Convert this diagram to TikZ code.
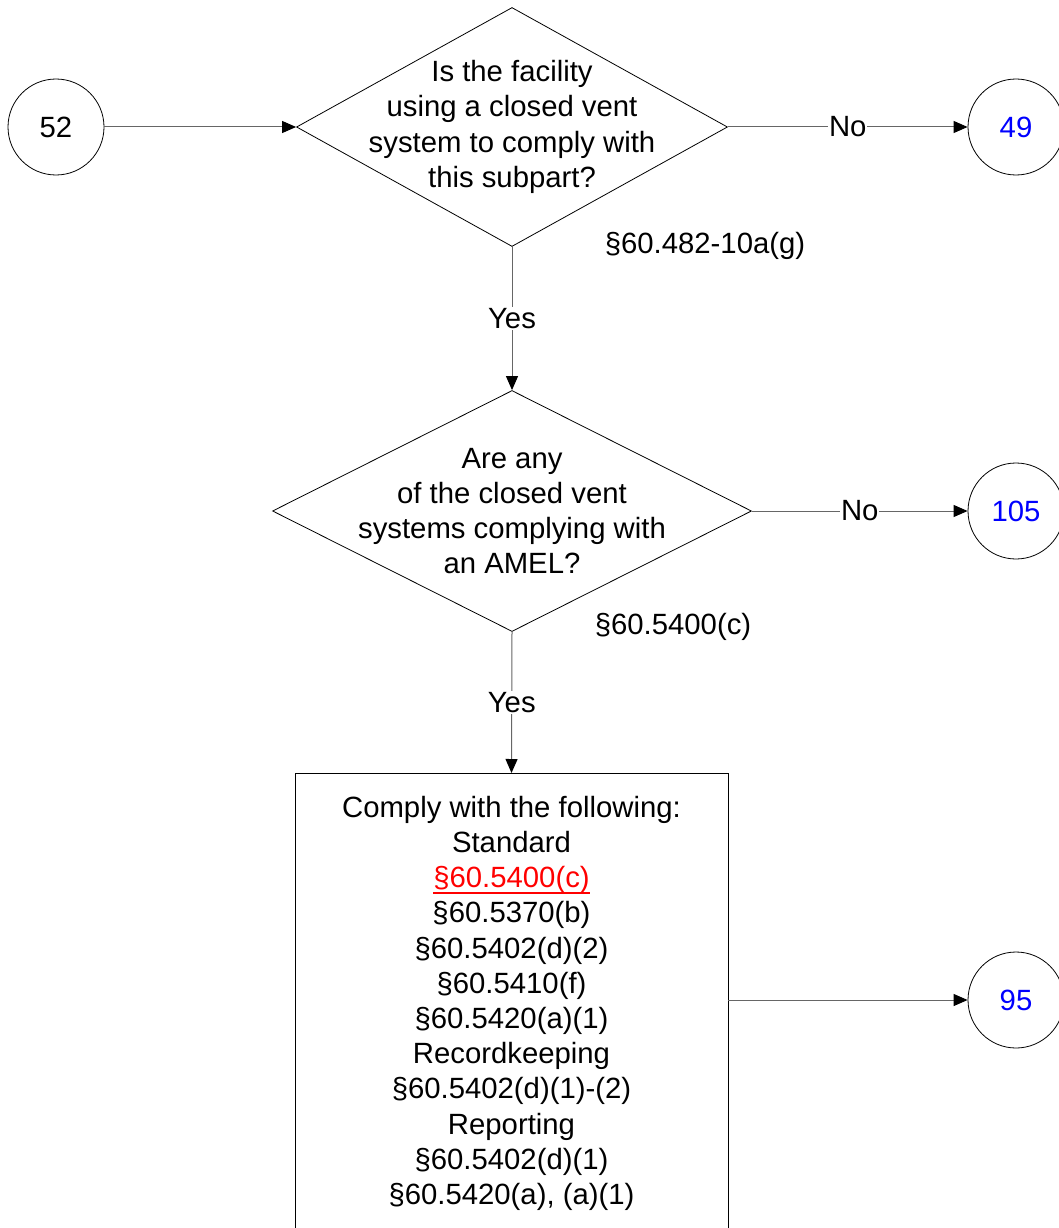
\documentclass[tikz,border=0pt]{standalone}
\usepackage{fontspec}
\setmainfont{Liberation Sans}
\usepackage{xcolor}
\usetikzlibrary{shapes.geometric,arrows.meta,positioning,calc}
\definecolor{linkblue}{HTML}{0000FF}
\definecolor{linkred}{HTML}{FF0000}
\definecolor{conngray}{HTML}{666666}
\newcommand{\redlink}[1]{\textcolor{linkred}{\setbox0\hbox{#1}\rlap{\rule[-6pt]{\wd0}{1.5pt}}\box0}}
\tikzset{
  arr/.style={-{Triangle[length=14pt,width=12pt,color=black,fill=black]},conngray,line width=1pt},
  conn/.style={circle,draw,line width=0.8pt,minimum size=96pt,inner sep=0pt},
  dec/.style={diamond,draw,line width=0.8pt,inner sep=0pt},
  txt/.style={align=center,inner sep=0pt},
  lbl/.style={fill=white,inner sep=1pt,text=black},
}

\begin{document}
\begin{tikzpicture}[x=1pt,y=-1pt,font=\fontsize{29.3}{35.2}\selectfont]
\useasboundingbox (0,0) rectangle (1058,1228);

\node[conn] (c52) at (56,127) {52};
\node[dec,minimum width=431pt,minimum height=239pt] (d1) at (512,127) {};
\node[txt] at (d1) {Is the facility\\using a closed vent\\system to comply with\\this subpart?};
\node[conn,text=linkblue] (c49) at (1016,127) {49};
\node[txt] (r1) at (705,246) {§60.482-10a(g)};

\node[dec,minimum width=479pt,minimum height=241pt] (d2) at (512,511) {};
\node[txt] at (d2) {Are any\\of the closed vent\\systems complying with\\an AMEL?};
\node[conn,text=linkblue] (c105) at (1016,511) {105};
\node[txt] (r2) at (673,627) {§60.5400(c)};

\node[draw,line width=0.8pt,align=center,minimum width=433pt,minimum height=460pt,
  anchor=north] (cmp) at (511.5,773)
  {Comply with the following:\\Standard\\\redlink{§60.5400(c)}\\§60.5370(b)\\
   §60.5402(d)(2)\\§60.5410(f)\\§60.5420(a)(1)\\Recordkeeping\\§60.5402(d)(1)-(2)\\
   Reporting\\§60.5402(d)(1)\\§60.5420(a), (a)(1)};
\node[conn,text=linkblue] (c95) at (1016,1000) {95};

\draw[arr] (c52) -- (d1.west);
\draw[arr] (d1.east) -- node[lbl]{No} (c49);
\draw[arr] (d1.south) -- node[lbl]{Yes} (d2.north);
\draw[arr] (d2.east) -- node[lbl]{No} (c105);
\draw[arr] (d2.south) -- node[lbl]{Yes} (cmp.north);
\draw[arr] (cmp.east |- c95) -- (c95);
\end{tikzpicture}
\end{document}
